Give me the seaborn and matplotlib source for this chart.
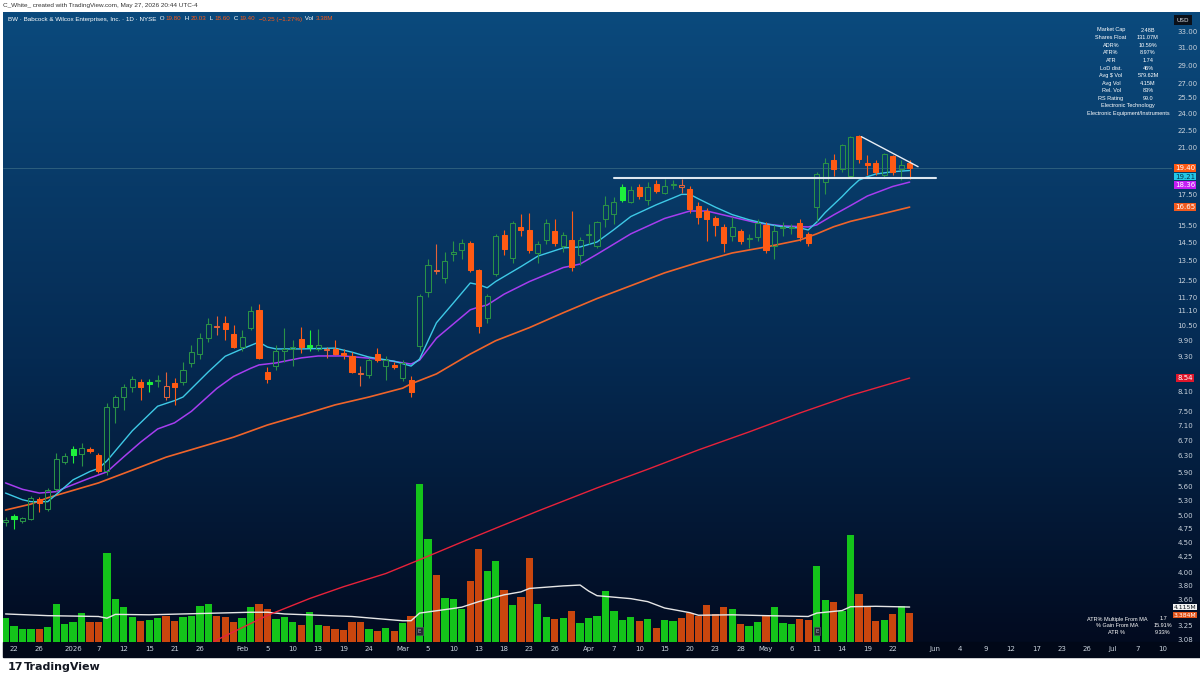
import numpy as np
import pandas as pd
import matplotlib
matplotlib.use("Agg")
import matplotlib.pyplot as plt
import matplotlib.transforms as mtransforms
from matplotlib.colors import LinearSegmentedColormap
from matplotlib.patches import Rectangle
from matplotlib.ticker import FixedLocator, NullLocator, FuncFormatter
import seaborn as sns

# ---------------- data ----------------
holidays = ["2025-12-25", "2026-01-01", "2026-01-19", "2026-02-16", "2026-04-03",
            "2026-05-25", "2026-06-19", "2026-07-03"]

opens = [4.86, 4.98, 4.88, 4.93, 5.32, 5.12, 5.53, 6.16, 6.48, 6.36,
         6.48, 6.33, 5.95, 7.63, 7.93, 8.24, 8.41, 8.41, 8.44, 7.93,
         8.37, 8.41, 9.05, 9.38, 9.97, 10.42, 10.58, 10.15, 9.63, 10.38,
         11.12, 8.73, 8.95, 9.49, 9.56, 9.94, 9.73, 9.55, 9.52, 9.55,
         9.42, 9.31, 8.66, 8.63, 9.38, 8.95, 8.97, 8.55, 8.48, 9.68,
         11.95, 12.98, 12.60, 13.85, 14.10, 14.47, 13.02, 10.80, 12.82, 14.93,
         13.65, 15.42, 15.25, 13.90, 14.62, 15.15, 14.30, 14.66, 13.80, 14.95,
         14.30, 15.88, 16.20, 18.00, 17.00, 18.00, 17.10, 18.20, 17.60, 18.12,
         17.98, 17.90, 16.70, 16.40, 15.94, 15.40, 14.90, 15.17, 14.68, 14.80,
         15.50, 14.30, 15.33, 15.36, 15.65, 15.00, 16.66, 18.37, 20.00, 19.32,
         18.80, 22.00, 19.78, 19.78, 18.90, 20.30, 19.35, 19.80]
highs = [4.97, 5.02, 4.96, 5.38, 5.36, 5.55, 6.38, 6.38, 6.55, 6.62,
         6.52, 6.38, 7.75, 8.00, 8.35, 8.62, 8.50, 8.50, 8.65, 8.76,
         8.55, 9.08, 9.70, 10.20, 10.78, 10.90, 10.90, 10.50, 10.30, 11.30,
         11.40, 8.90, 9.70, 10.38, 9.90, 10.42, 10.30, 10.35, 9.65, 9.90,
         9.55, 9.45, 8.95, 9.25, 9.60, 9.30, 9.10, 9.15, 8.60, 11.85,
         13.60, 14.40, 14.00, 14.60, 14.70, 14.60, 13.10, 11.85, 15.00, 15.20,
         15.80, 16.20, 16.30, 14.60, 15.90, 15.90, 15.10, 16.40, 14.80, 15.60,
         15.80, 17.40, 17.30, 18.20, 18.10, 18.20, 18.40, 18.50, 18.60, 18.50,
         18.60, 18.10, 17.00, 16.60, 16.10, 15.60, 16.00, 15.30, 15.00, 15.90,
         15.70, 15.50, 15.70, 15.60, 15.90, 15.10, 19.10, 20.20, 20.50, 21.30,
         22.00, 22.10, 20.40, 20.00, 20.60, 20.40, 20.00, 20.03]
lows = [4.80, 4.74, 4.84, 4.90, 5.06, 5.08, 5.50, 6.10, 6.13, 6.05,
        6.38, 5.90, 5.85, 7.17, 7.55, 8.10, 7.84, 8.10, 8.25, 7.84,
        7.69, 8.30, 8.90, 9.20, 9.85, 10.10, 9.90, 9.60, 9.50, 10.30,
        9.20, 8.38, 8.80, 9.10, 8.95, 9.40, 9.50, 9.50, 9.25, 9.35,
        9.20, 8.70, 8.27, 8.55, 9.10, 8.48, 8.85, 8.45, 7.93, 9.50,
        11.70, 12.80, 12.40, 13.50, 13.60, 12.90, 10.20, 10.60, 12.70, 13.80,
        13.40, 14.90, 13.90, 13.40, 14.40, 14.30, 14.00, 12.95, 13.30, 14.40,
        14.20, 15.40, 15.60, 17.00, 16.90, 17.20, 16.80, 17.60, 17.50, 17.90,
        17.60, 16.30, 15.60, 14.60, 14.90, 14.00, 14.60, 14.40, 14.20, 14.60,
        13.90, 13.60, 14.90, 15.00, 14.60, 14.30, 15.80, 17.50, 18.80, 19.10,
        18.70, 19.80, 18.90, 18.90, 18.70, 18.90, 18.50, 18.60]
closes = [4.91, 4.93, 4.94, 5.35, 5.25, 5.51, 6.22, 6.30, 6.33, 6.51,
          6.43, 5.95, 7.63, 7.93, 8.24, 8.51, 8.24, 8.33, 8.48, 8.27,
          8.24, 8.83, 9.45, 9.98, 10.54, 10.46, 10.34, 9.66, 10.03, 11.08,
          9.25, 8.51, 9.49, 9.55, 9.66, 9.63, 9.65, 9.70, 9.56, 9.38,
          9.33, 8.73, 8.70, 9.17, 9.15, 9.17, 8.92, 9.06, 8.10, 11.75,
          13.28, 13.05, 13.48, 14.00, 14.50, 13.02, 10.47, 11.77, 14.87, 14.12,
          15.65, 15.22, 14.06, 14.40, 15.65, 14.50, 14.93, 13.20, 14.63, 15.02,
          15.70, 16.79, 17.00, 17.10, 17.80, 17.40, 18.00, 17.75, 18.10, 18.20,
          18.15, 16.50, 16.00, 15.88, 15.55, 14.47, 15.40, 14.58, 14.75, 15.65,
          14.06, 15.15, 15.40, 15.42, 14.80, 14.50, 18.95, 19.78, 19.30, 21.23,
          21.90, 20.10, 19.60, 19.10, 20.50, 19.10, 19.65, 19.40]
volumes_m = [2.8, 1.9, 1.5, 1.5, 1.5, 1.75, 4.45, 2.1, 2.35, 3.45,
             2.3, 2.3, 10.5, 5.05, 4.1, 3.0, 2.5, 2.55, 2.8, 3.1,
             2.5, 3.0, 3.1, 4.2, 4.45, 3.1, 3.0, 2.4, 2.8, 4.15,
             4.45, 3.9, 2.65, 3.0, 2.3, 2.0, 3.5, 1.95, 1.85, 1.5,
             1.4, 2.3, 2.35, 1.5, 1.3, 1.6, 1.35, 2.2, 3.1, 18.6,
             12.1, 7.9, 5.2, 5.1, 3.9, 7.2, 10.9, 8.35, 9.5, 6.1,
             4.35, 5.3, 9.9, 4.45, 3.0, 2.7, 2.8, 3.65, 2.25, 2.8,
             3.1, 6.0, 3.6, 2.55, 2.9, 2.5, 2.7, 1.7, 2.55, 2.45,
             2.8, 3.4, 3.1, 4.3, 3.3, 4.15, 3.9, 2.15, 1.9, 2.3,
             3.2, 4.15, 2.2, 2.1, 2.7, 2.6, 9.0, 5.0, 4.7, 3.7,
             12.55, 5.6, 4.1, 2.45, 2.55, 3.25, 4.2, 3.384]

# moving averages, sampled at bar numbers
ema10_bar = [0, 2, 3, 5, 6, 8, 10, 11, 12, 15, 18, 20, 21, 24, 26, 28, 30, 31, 32, 35,
             39, 41, 43, 46, 48, 49, 51, 53, 55, 56, 57, 58, 61, 63, 66, 68, 70, 72, 74, 77,
             79, 80, 81, 82, 84, 86, 88, 90, 92, 94, 95, 96, 97, 99, 100, 101, 102, 103, 105, 107]
ema10_val = [5.45, 5.31, 5.27, 5.27, 5.42, 5.74, 5.93, 6.00, 6.18, 6.95, 7.65, 7.82, 7.93, 8.75, 9.30, 9.57, 9.83, 9.64, 9.57, 9.57,
             9.60, 9.45, 9.27, 9.12, 8.95, 9.20, 10.60, 11.45, 12.38, 12.30, 12.15, 12.45, 13.20, 13.75, 14.20, 14.25, 14.53, 15.25, 16.05, 16.80,
             17.26, 17.50, 17.50, 17.20, 16.65, 16.17, 15.85, 15.60, 15.41, 15.35, 15.23, 15.70, 16.30, 17.35, 17.95, 18.50, 18.75, 18.95, 19.12, 19.21]
ema21_bar = [0, 2, 4, 6, 7, 10, 11, 12, 14, 16, 18, 20, 22, 25, 27, 29, 30, 32, 35, 37,
             40, 43, 45, 48, 49, 51, 55, 56, 57, 59, 62, 66, 68, 70, 74, 78, 81, 83, 86, 89,
             92, 95, 96, 98, 100, 102, 105, 107]
ema21_val = [5.67, 5.53, 5.45, 5.48, 5.56, 5.78, 5.85, 5.92, 6.28, 6.65, 7.00, 7.17, 7.50, 8.20, 8.60, 8.87, 8.99, 9.06, 9.24, 9.31,
             9.31, 9.23, 9.16, 9.02, 9.16, 9.98, 11.15, 11.27, 11.36, 11.85, 12.45, 13.15, 13.33, 13.85, 15.00, 15.93, 16.40, 16.40, 16.02, 15.65,
             15.47, 15.41, 15.53, 16.15, 16.75, 17.39, 18.05, 18.36]
sma50_bar = [0, 3, 5, 11, 15, 19, 23, 27, 31, 35, 39, 43, 47, 48, 51, 55, 58, 62, 66, 70,
             74, 78, 82, 86, 90, 94, 96, 98, 100, 103, 107]
sma50_val = [5.10, 5.22, 5.35, 5.67, 5.96, 6.27, 6.52, 6.78, 7.11, 7.39, 7.69, 7.93, 8.21, 8.35, 8.68, 9.38, 9.88, 10.40, 11.02, 11.65,
             12.25, 12.88, 13.42, 13.92, 14.25, 14.64, 15.00, 15.42, 15.75, 16.12, 16.65]
sma200_bar = [24, 25, 31, 36, 40, 45, 49, 54, 58, 63, 70, 76, 82, 88, 94, 100, 107]
sma200_val = [3.00, 3.07, 3.38, 3.61, 3.78, 3.98, 4.20, 4.50, 4.75, 5.08, 5.56, 5.98, 6.45, 6.92, 7.45, 7.98, 8.54]
volma_bar = [0, 5, 11, 12, 13, 17, 23, 29, 31, 33, 41, 47, 48, 49, 53, 54, 56, 59, 61, 62,
             66, 68, 69, 70, 74, 76, 78, 81, 82, 86, 90, 95, 96, 99, 100, 103, 107]
volma_val = [3.3, 3.1, 3.0, 2.8, 3.25, 3.2, 3.35, 3.5, 3.5, 3.3, 3.0, 2.5, 2.5, 3.4, 3.95, 4.1, 4.75, 5.55, 5.9, 6.3,
             6.6, 6.7, 6.0, 5.45, 5.1, 4.75, 4.0, 3.45, 3.15, 3.2, 3.1, 3.0, 3.4, 3.7, 4.15, 4.2, 4.115]

# drawn lines: flat resistance and falling trendline
resist_bars = [72.0, 110.1]
resist_price = [18.68, 18.68]
trend_bars = [101.3, 108.0]
trend_price = [21.92, 19.50]
earnings_bars = [49, 96]

price_ticks = [33.00, 31.00, 29.00, 27.00, 25.50, 24.00, 22.50, 21.00, 17.50, 15.50, 14.50,
               13.50, 12.50, 11.70, 11.10, 10.50, 9.90, 9.30, 8.10, 7.50, 7.10, 6.70, 6.30,
               5.90, 5.60, 5.30, 5.00, 4.75, 4.50, 4.25, 4.00, 3.80, 3.60, 3.25, 3.08]
date_ticks = ["2025-12-22", "2025-12-26", "2026-01-02", "2026-01-07", "2026-01-12", "2026-01-15",
              "2026-01-21", "2026-01-26", "2026-02-02", "2026-02-05", "2026-02-10", "2026-02-13",
              "2026-02-19", "2026-02-24", "2026-03-02", "2026-03-05", "2026-03-10", "2026-03-13",
              "2026-03-18", "2026-03-23", "2026-03-26", "2026-04-01", "2026-04-07", "2026-04-10",
              "2026-04-15", "2026-04-20", "2026-04-23", "2026-04-28", "2026-05-01", "2026-05-06",
              "2026-05-11", "2026-05-14", "2026-05-19", "2026-05-22", "2026-06-01", "2026-06-04",
              "2026-06-09", "2026-06-12", "2026-06-17", "2026-06-23", "2026-06-26", "2026-07-01",
              "2026-07-07", "2026-07-10"]
date_labels = ["22", "26", "2026", "7", "12", "15", "21", "26", "Feb", "5", "10", "13", "19", "24",
               "Mar", "5", "10", "13", "18", "23", "26", "Apr", "7", "10", "15", "20", "23", "28",
               "May", "6", "11", "14", "19", "22", "Jun", "4", "9", "12", "17", "23", "26", "Jul",
               "7", "10"]

stats_rows = [("Market Cap", "2.48B"), ("Shares Float", "131.07M"), ("ADR%", "10.59%"),
              ("ATR%", "8.97%"), ("ATR", "1.74"), ("LoD dist.", "46%"), ("Avg $ Vol", "579.62M"),
              ("Avg Vol", "4.15M"), ("Rel. Vol", "83%"), ("RS Rating", "99.0")]
sector_rows = ["Electronic Technology", "Electronic Equipment/Instruments"]
ma_rows = [("ATR% Multiple From MA", "1.7"), ("% Gain From MA", "15.91%"), ("ATR %", "9.33%")]

# ---------------- style ----------------
GREEN_LINE = "#2a9247"
LIME = "#1ef03c"
ORANGE = "#ff5a14"
ORANGE_HOLLOW = "#e2633a"
VOL_GREEN = "#14c41a"
VOL_RED = "#c9460e"
TXT = "#c9d2dc"

sns.set_theme(style="dark")
plt.rcParams["font.family"] = ["DejaVu Sans"]
NARROW = ["Liberation Sans Narrow", "Liberation Sans", "DejaVu Sans"]

W, H = 1200, 680
fig = plt.figure(figsize=(12, 6.8), dpi=100, facecolor="white")


def fx(px):
    return px / W


def fy(py):
    return 1 - py / H


# background gradient + date strip
bg = fig.add_axes([fx(3), fy(642), fx(1197), 630 / H])
grad_cmap = LinearSegmentedColormap.from_list("tv", [(0, "#020b20"), (0.45, "#052a52"), (1, "#0b4a7d")])
bg.imshow(np.linspace(0, 1, 256).reshape(-1, 1), aspect="auto", cmap=grad_cmap,
          origin="lower", extent=[0, 1, 0, 1])
bg.axis("off")
bg.set_zorder(-2)
fig.patches.append(Rectangle((fx(3), fy(657)), fx(1197), 15 / H, transform=fig.transFigure,
                             color="#010818", zorder=-1))

ax = fig.add_axes([fx(3), fy(642), fx(1169), 630 / H])
ax_vol = ax.twinx()
ax.set_zorder(2)
ax_vol.set_zorder(1)
for a in (ax, ax_vol):
    a.patch.set_visible(False)
    a.grid(False)
    for s in a.spines.values():
        s.set_visible(False)

# trading calendar -> bar positions
cal = pd.bdate_range("2025-12-19", "2026-07-20", freq="C", holidays=holidays)
n = len(closes)
bars = np.arange(n)

o = np.array(opens)
c = np.array(closes)
h = np.array(highs)
l = np.array(lows)
v = np.array(volumes_m)

prev_close = np.r_[o[0], c[:-1]]
up_day = c >= prev_close
hollow = c > o
body_lo = np.minimum(o, c)
body_hi = np.maximum(np.maximum(o, c), body_lo * 1.004)

edge = np.where(up_day, np.where(hollow, GREEN_LINE, LIME), np.where(hollow, ORANGE_HOLLOW, ORANGE))
face = np.where(hollow, "none", np.where(up_day, LIME, ORANGE))

ax.set_yscale("log")
ax.set_ylim(3.046, 35.68)
ax.set_xlim(-0.3, 138.05)

# volume
ax_vol.bar(bars, v, width=0.86, color=np.where(up_day, VOL_GREEN, VOL_RED), linewidth=0, zorder=1)
sns.lineplot(x=volma_bar, y=volma_val, ax=ax_vol, color="#e6e6e6", linewidth=1.0, zorder=2)
ax_vol.set_ylim(0, 630 / 8.5)
ax_vol.set_yticks([])
ax_vol.set_ylabel("")

# candles
ax.vlines(bars, body_hi, h, colors=edge, linewidth=0.8, zorder=3)
ax.vlines(bars, l, body_lo, colors=edge, linewidth=0.8, zorder=3)
ax.bar(bars, body_hi - body_lo, bottom=body_lo, width=0.6, color=face, edgecolor=edge,
       linewidth=0.75, zorder=4)

# moving averages
sns.lineplot(x=sma200_bar, y=sma200_val, ax=ax, color="#e8223a", linewidth=1.0, zorder=2)
sns.lineplot(x=sma50_bar, y=sma50_val, ax=ax, color="#f0642a", linewidth=1.2, zorder=2)
sns.lineplot(x=ema21_bar, y=ema21_val, ax=ax, color="#a63df0", linewidth=1.1, zorder=2)
sns.lineplot(x=ema10_bar, y=ema10_val, ax=ax, color="#3ec9e6", linewidth=1.0, zorder=2)

# price line + drawings
ax.axhline(c[-1], color="#4f7f8f", linewidth=0.6, alpha=0.6, zorder=1)
ax.plot(resist_bars, resist_price, color="#dce6f0", linewidth=1.5, zorder=5)
ax.plot(trend_bars, trend_price, color="#e8eef5", linewidth=1.0, zorder=5)

# earnings markers
vol_tr = mtransforms.blended_transform_factory(ax_vol.transData, ax_vol.transAxes)
for b in earnings_bars:
    ax_vol.text(b, 0.013, "E", transform=vol_tr, ha="center", va="bottom", fontsize=4,
                color="#b0b4bc", zorder=6,
                bbox=dict(boxstyle="square,pad=0.25", fc="#262a33", ec="#50545c", lw=0.5))

# axes ticks
ax.yaxis.tick_right()
ax.yaxis.set_major_locator(FixedLocator(price_ticks))
ax.yaxis.set_minor_locator(NullLocator())
ax.yaxis.set_major_formatter(FuncFormatter(lambda val, pos: f"{val:.2f}"))
ax.tick_params(axis="y", length=0, pad=4, labelsize=5, labelcolor=TXT)
ax.set_ylabel("")

tick_pos = cal.get_indexer(pd.to_datetime(date_ticks))
ax.set_xticks(tick_pos)
ax.set_xticklabels(date_labels)
ax.xaxis.set_minor_locator(NullLocator())
ax.tick_params(axis="x", length=0, pad=3, labelsize=5, labelcolor=TXT)


def stacked_boxes(axis, items, gap=8.6, size=5):
    # place value boxes on the right edge, pushed apart like the platform does
    ys = [axis.transData.transform((0, val))[1] for val, _, _, _ in items]
    order = np.argsort(ys)[::-1]
    last = None
    placed = {}
    for k in order:
        y = ys[k]
        if last is not None and last - y < gap:
            y = last - gap
        placed[k] = y
        last = y
    for k, (val, label, fc, tc) in enumerate(items):
        fig.text(fx(1185), placed[k] / H, label, ha="center", va="center", fontsize=size,
                 color=tc, zorder=7, bbox=dict(boxstyle="square,pad=0.12", fc=fc, ec="none"))


stacked_boxes(ax, [(c[-1], f"{c[-1]:.2f}", "#ff5a14", "white"),
                   (ema10_val[-1], f"{ema10_val[-1]:.2f}", "#22c7e8", "#08304a"),
                   (ema21_val[-1], f"{ema21_val[-1]:.2f}", "#c51ef5", "white"),
                   (sma50_val[-1], f"{sma50_val[-1]:.2f}", "#f25a1e", "white"),
                   (sma200_val[-1], f"{sma200_val[-1]:.2f}", "#e0162b", "white")])
stacked_boxes(ax_vol, [(volma_val[-1], f"{volma_val[-1]:.3f}M", "#f2f2f2", "#101820"),
                       (v[-1], f"{v[-1]:.3f}M", "#e0531a", "white")], gap=8.0, size=4.4)

fig.text(fx(1183), fy(20), "USD", fontsize=4.2, color="#d8dde4", ha="center", va="center",
         bbox=dict(boxstyle="square,pad=0.5", fc="#0a0f18", ec="none"))

# tables
for k, (lab, val) in enumerate(stats_rows):
    yy = 30 + k * 7.6
    fig.text(fx(1111), fy(yy), lab, fontsize=4, color="white", ha="center", va="center", family=NARROW)
    fig.text(fx(1148), fy(yy), val, fontsize=4, color="white", ha="center", va="center", family=NARROW)
for k, lab in enumerate(sector_rows):
    fig.text(fx(1128), fy(106 + k * 7.6), lab, fontsize=4, color="white", ha="center",
             va="center", family=NARROW)
for k, (lab, val) in enumerate(ma_rows):
    yy = 619 + k * 6.5
    fig.text(fx(1117), fy(yy), lab, fontsize=4, color="white", ha="center", va="center", family=NARROW)
    fig.text(fx(1163), fy(yy), val, fontsize=4, color="white", ha="center", va="center", family=NARROW)

# header line, built piece by piece
renderer = fig.canvas.get_renderer()
chg = c[-1] - c[-2]
pieces = [("BW · Babcock & Wilcox Enterprises, Inc. · 1D · NYSE", "white"),
          (" O", "white"), (f"{o[-1]:.2f}", ORANGE), (" H", "white"), (f"{h[-1]:.2f}", ORANGE),
          (" L", "white"), (f"{l[-1]:.2f}", ORANGE), (" C", "white"), (f"{c[-1]:.2f}", ORANGE),
          (f" {chg:+.2f} ({chg / c[-2] * 100:+.2f}%)".replace("-", "−"), ORANGE),
          (" Vol", "white"), (f"{v[-1]:.2f}M", ORANGE)]
x0 = fx(8)
for txt, col in pieces:
    t = fig.text(x0, fy(19), txt, fontsize=4.5, color=col, ha="left", va="center", family=NARROW)
    x0 = t.get_window_extent(renderer=renderer).x1 / W + 1.5 / W

fig.text(fx(3), fy(5), "C_White_ created with TradingView.com, May 27, 2026 20:44 UTC-4",
         fontsize=4.6, color="#333333", ha="left", va="center", family=NARROW)
fig.text(fx(8), fy(667), "17", fontsize=8, color="#131722", ha="left", va="center",
         fontweight="heavy")
fig.text(fx(24), fy(667), "TradingView", fontsize=8, color="#131722", ha="left", va="center",
         fontweight="bold")

fig.savefig("out.png", dpi=100, facecolor="white")
